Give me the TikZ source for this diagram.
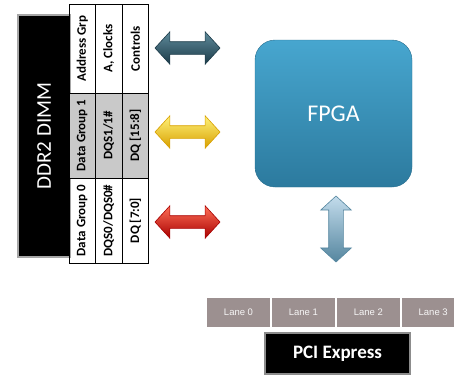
\documentclass[tikz,border=0pt]{standalone}
\usepackage{fontspec}
\setmainfont{Carlito}
\newfontfamily\lanefont{Liberation Sans}
\usetikzlibrary{positioning,shapes.arrows}

\definecolor{fpgatop}{HTML}{47A6CF}
\definecolor{fpgabot}{HTML}{2C7A9E}
\definecolor{lanegray}{HTML}{9C9090}
\definecolor{celgray}{HTML}{C9C9C9}
\definecolor{teala}{HTML}{5F8B9B}
\definecolor{tealb}{HTML}{2E5868}
\definecolor{tealc}{HTML}{1C3B49}
\definecolor{yela}{HTML}{FFF27A}
\definecolor{yelb}{HTML}{FFD200}
\definecolor{yelc}{HTML}{D8A000}
\definecolor{reda}{HTML}{FF7058}
\definecolor{redb}{HTML}{EE1B0C}
\definecolor{redc}{HTML}{A80000}
\definecolor{blua}{HTML}{C3DCEC}
\definecolor{blub}{HTML}{8CB5D1}
\definecolor{bluc}{HTML}{55869F}

\tikzset{
  cell/.style={draw, line width=1pt, rotate=90, inner sep=0pt, minimum height=26.5, font=\bfseries\fontsize{13}{13}\selectfont},
  dblarrow/.style={double arrow, double arrow head extend=10pt, double arrow tip angle=95, inner xsep=0pt, inner ysep=6pt, minimum height=65, line width=0.6pt},
  lane/.style={fill=lanegray, minimum width=63, minimum height=29, inner sep=0pt, text=white!92!lanegray, font=\lanefont\fontsize{9.5}{9.5}\selectfont}
}

\begin{document}
\begin{tikzpicture}[x=1pt, y=-1pt]
        \useasboundingbox (0,0) rectangle (454,376);
        % DIMM
        \node[fill=black, draw=black!35, line width=2.5pt, rotate=90, minimum width=242, minimum height=52, text=white, font=\fontsize{21}{21}\selectfont] (dimm) at (44,136) {DDR2 DIMM};
        % pin groups
        \node[cell, minimum width=89] (adr) at (82.25,48.5) {Address Grp};
        \node[cell, minimum width=89] (clk) at (108.75,48.5) {A, Clocks};
        \node[cell, minimum width=89] (ctl) at (135.25,48.5) {Controls};
        \node[cell, fill=celgray, minimum width=85] (dg1) at (82.25,135.5) {Data Group 1};
        \node[cell, fill=celgray, minimum width=85] (dqs1) at (108.75,135.5) {DQS1/1\#};
        \node[cell, fill=celgray, minimum width=85] (dq1) at (135.25,135.5) {DQ [15:8]};
        \node[cell, minimum width=85] (dg0) at (82.25,220.5) {Data Group 0};
        \node[cell, minimum width=85] (dqs0) at (108.75,220.5) {DQS0/DQS0\#};
        \node[cell, minimum width=85] (dq0) at (135.25,220.5) {DQ [7:0]};
        % bus arrows
        \node[dblarrow, draw=tealc, top color=teala, middle color=tealb, bottom color=tealc] (abus) at (187.5,48) {};
        \node[dblarrow, draw=yelc, top color=yela, middle color=yelb, bottom color=yelc] (d1bus) at (187.5,132) {};
        \node[dblarrow, draw=redc, top color=reda, middle color=redb, bottom color=redc] (d0bus) at (187.5,222) {};
        % FPGA
        \node[rounded corners=20pt, top color=fpgatop, bottom color=fpgabot, draw=fpgabot!90!black, minimum width=157, minimum height=147, text=white, font=\fontsize{24}{24}\selectfont] (fpga) at (333.5,113.5) {FPGA};
        \node[dblarrow, rotate=90, minimum height=66, inner ysep=7pt, double arrow head extend=8pt, draw=bluc, top color=blua, middle color=blub, bottom color=bluc] (pbus) at (336,229) {};
        % lanes
        \node[lane] (l0) at (238.5,312.5) {Lane 0};
        \node[lane] (l1) [right=1.5pt of l0] {Lane 1};
        \node[lane] (l2) [right=1.5pt of l1] {Lane 2};
        \node[lane] (l3) [right=1.5pt of l2] {Lane 3};
        \node[fill=black, draw=black!45, line width=2pt, minimum width=145, minimum height=41, text=white, font=\bfseries\fontsize{19}{19}\selectfont] (pcie) at (337.5,353.5) {PCI Express};
\end{tikzpicture}
\end{document}
